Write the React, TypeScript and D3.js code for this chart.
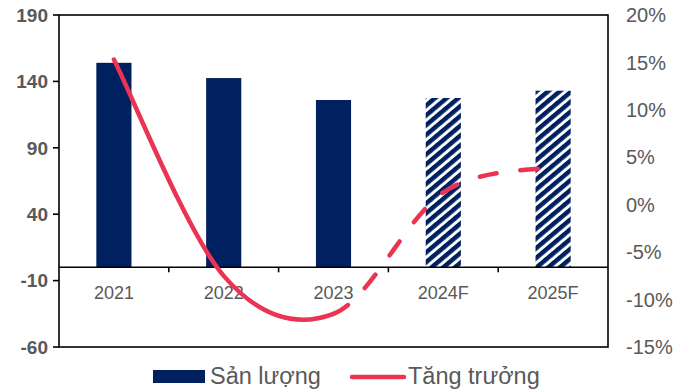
import React from "react";
import * as d3 from "d3";

const categories = ["2021", "2022", "2023", "2024F", "2025F"];
const production = [154, 142.5, 126, 127.5, 133];
const growth = [15.3, -7.5, -11.5, 1.3, 4.0];
const isForecast = [false, false, false, true, true];
const leftTicks = [-60, -10, 40, 90, 140, 190];
const rightTicks = [-15, -10, -5, 0, 5, 10, 15, 20];
const legendLabels = ["Sản lượng", "Tăng trưởng"];

const W = 676;
const H = 392;
const L = 59;
const R = 608;
const T = 15;
const B = 347;
const NAVY = "#002060";
const RED = "#EB3452";
const GRAY = "#595959";
const FONT = "'Liberation Sans', Arial, sans-serif";

export default function App() {
  const x = d3.scaleBand<string>().domain(categories).range([L, R]).padding(0);
  const yL = d3.scaleLinear().domain([-60, 190]).range([B, T]);
  const yR = d3.scaleLinear().domain([-15, 20]).range([B, T]);
  const bw = x.bandwidth() * 0.32;
  const cx = (c: string) => (x(c) as number) + x.bandwidth() / 2;

  const pts: [number, number][] = categories.map((c, i) => [cx(c), yR(growth[i])]);
  const seg = (p: d3.Path, i: number) => {
    const p0 = pts[i - 1] ?? pts[i];
    const p1 = pts[i];
    const p2 = pts[i + 1];
    const p3 = pts[i + 2] ?? pts[i + 1];
    p.bezierCurveTo(
      p1[0] + (p2[0] - p0[0]) / 6,
      p1[1] + (p2[1] - p0[1]) / 6,
      p2[0] - (p3[0] - p1[0]) / 6,
      p2[1] - (p3[1] - p1[1]) / 6,
      p2[0],
      p2[1]
    );
  };
  const solid = d3.path();
  solid.moveTo(pts[0][0], pts[0][1]);
  seg(solid, 0);
  seg(solid, 1);
  const dashed = d3.path();
  dashed.moveTo(pts[2][0], pts[2][1]);
  seg(dashed, 2);
  seg(dashed, 3);

  const y0 = yL(0);
  const boundaries = categories.slice(1).map((c) => x(c) as number);

  return (
    <svg width={W} height={H} style={{ position: "absolute", left: 0, top: 0 }} fontFamily={FONT}>
      <defs>
        <pattern id="hatch" patternUnits="userSpaceOnUse" width={7.5} height={7.5} patternTransform="rotate(50)">
          <rect width={7.5} height={7.5} fill="#ffffff" />
          <rect width={4.5} height={7.5} fill={NAVY} />
        </pattern>
      </defs>
      <rect width={W} height={H} fill="#ffffff" />
      {categories.map((c, i) => (
        <rect
          key={c}
          x={cx(c) - bw / 2}
          y={yL(production[i])}
          width={bw}
          height={y0 - yL(production[i])}
          fill={isForecast[i] ? "url(#hatch)" : NAVY}
        />
      ))}
      <rect x={L} y={T} width={R - L} height={B - T} fill="none" stroke="#000" strokeWidth={1.6} />
      <line x1={L} x2={R} y1={y0} y2={y0} stroke="#000" strokeWidth={1.6} />
      {boundaries.map((b, i) => (
        <line key={i} x1={b} x2={b} y1={y0} y2={y0 + 5} stroke="#000" strokeWidth={1.6} />
      ))}
      {leftTicks.map((t) => (
        <g key={t}>
          <line x1={L - 6} x2={L} y1={yL(t)} y2={yL(t)} stroke="#000" strokeWidth={1.6} />
          <text x={L - 11} y={yL(t)} dy="0.36em" textAnchor="end" fontSize={19} fontWeight="bold" fill={GRAY}>
            {t}
          </text>
        </g>
      ))}
      {rightTicks.map((t) => (
        <text key={t} x={R + 18} y={yR(t)} dy="0.36em" textAnchor="start" fontSize={20} fill={GRAY}>
          {`${t}%`}
        </text>
      ))}
      {categories.map((c) => (
        <text key={c} x={cx(c)} y={299} textAnchor="middle" fontSize={18} fill={GRAY}>
          {c}
        </text>
      ))}
      <path d={solid.toString()} fill="none" stroke={RED} strokeWidth={4.5} strokeLinecap="round" />
      <path
        d={dashed.toString()}
        fill="none"
        stroke={RED}
        strokeWidth={4.5}
        strokeLinecap="round"
        strokeDasharray="17 24"
      />
      <rect x={153} y={370} width={52} height={13} fill={NAVY} />
      <text x={210} y={384} fontSize={23.5} fill={GRAY}>
        {legendLabels[0]}
      </text>
      <line x1={352} x2={404} y1={377} y2={377} stroke={RED} strokeWidth={4.5} strokeLinecap="round" />
      <text x={408} y={384} fontSize={23.5} fill={GRAY}>
        {legendLabels[1]}
      </text>
    </svg>
  );
}
